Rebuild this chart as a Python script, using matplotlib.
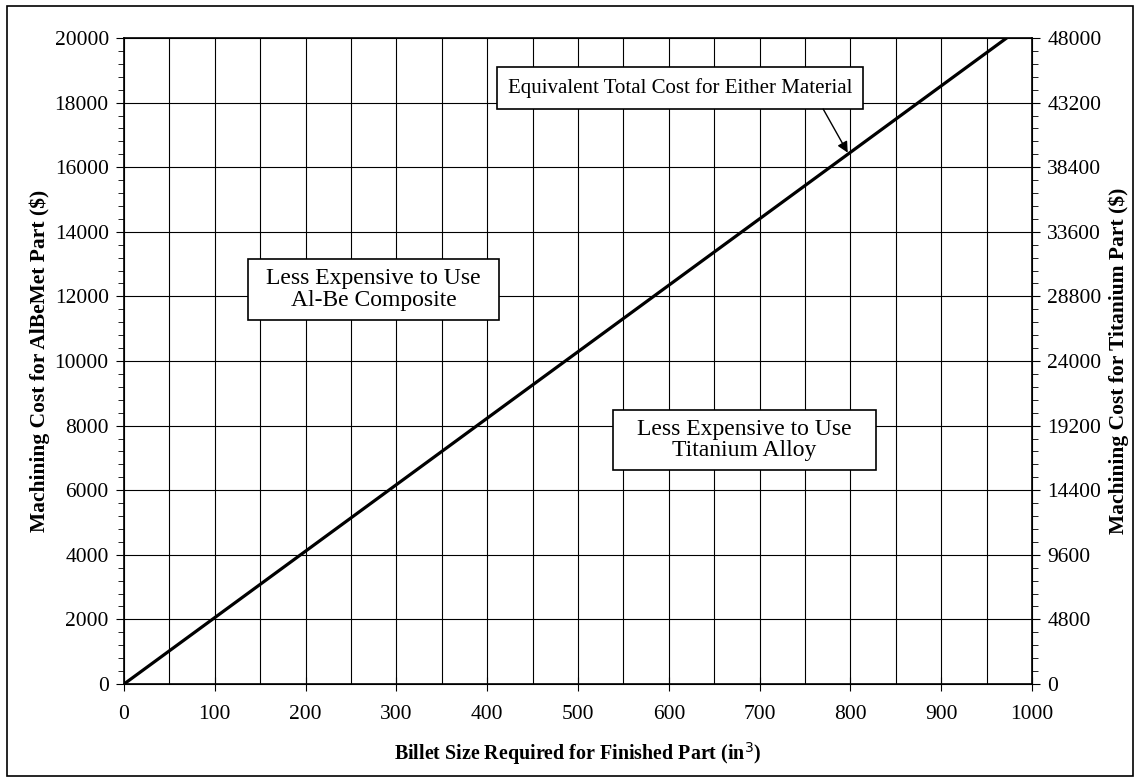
import matplotlib
matplotlib.use("Agg")
import matplotlib.pyplot as plt
from matplotlib.ticker import MultipleLocator
from matplotlib.patches import Rectangle

# break-even line: billet size (in^3) vs AlBeMet machining cost ($)
billet_size = [0, 972]
albemet_cost = [0, 20000]

x_ticks = list(range(0, 1001, 100))
left_ticks = list(range(0, 20001, 2000))
right_ticks = list(range(0, 48001, 4800))

plt.rcParams['font.family'] = ['Liberation Serif', 'DejaVu Serif']

fig = plt.figure(figsize=(11.4, 7.82), dpi=100)
fig.patches.append(Rectangle((0.006, 0.008), 0.988, 0.984, transform=fig.transFigure,
                             fill=False, edgecolor='black', linewidth=1.2))

ax = fig.add_axes([0.1088, 0.1253, 0.7965, 0.8261])
ax.set_xlim(0, 1000)
ax.set_ylim(0, 20000)

# grid every 50 in x, every 2000 in y
for gx in range(50, 1000, 50):
    ax.axvline(gx, color='black', linewidth=0.8, zorder=1)
for gy in left_ticks[1:-1]:
    ax.axhline(gy, color='black', linewidth=0.8, zorder=1)

ax.plot(billet_size, albemet_cost, color='black', linewidth=2.3, zorder=3)

ax.set_xticks(x_ticks)
ax.set_yticks(left_ticks)
ax.yaxis.set_minor_locator(MultipleLocator(400))
ax.tick_params(axis='x', direction='inout', length=10, labelsize=15.5, pad=10)
ax.tick_params(axis='y', which='major', direction='out', length=6, labelsize=15.5, pad=5)
ax.tick_params(axis='y', which='minor', direction='out', length=4)
for s in ax.spines.values():
    s.set_linewidth(1.2)

ax2 = ax.twinx()
ax2.set_ylim(0, 48000)
ax2.set_yticks(right_ticks)
ax2.yaxis.set_minor_locator(MultipleLocator(960))
ax2.tick_params(axis='y', which='major', direction='out', length=6, labelsize=15.5, pad=5)
ax2.tick_params(axis='y', which='minor', direction='out', length=4)

ax.set_xlabel('Billet Size Required for Finished Part (in$^{3}$)', fontsize=14.4,
              fontweight='bold', labelpad=12)
ax.set_ylabel('Machining Cost for AlBeMet Part ($)', fontsize=15.5,
              fontweight='bold', labelpad=3)
ax2.set_ylabel('Machining Cost for Titanium Part ($)', fontsize=15.5,
               fontweight='bold', labelpad=5)


def boxed(x, y, s, size, hpad, vpad, ls=1.05):
    # text with a plain rectangle drawn round it, padding given in pixels
    t = ax.text(x, y, s, ha='center', va='center', fontsize=size, zorder=5,
                linespacing=ls)
    fig.canvas.draw()
    bb = t.get_window_extent()
    inv = ax.transData.inverted()
    (x0, y0), (x1, y1) = inv.transform([(bb.x0 - hpad, bb.y0 - vpad),
                                        (bb.x1 + hpad, bb.y1 + vpad)])
    ax.add_patch(Rectangle((x0, y0), x1 - x0, y1 - y0, facecolor='white',
                           edgecolor='black', linewidth=1.2, zorder=4))


boxed(275, 12214, 'Less Expensive to Use\nAl-Be Composite', 17, 18, 9)
boxed(683, 7554, 'Less Expensive to Use\nTitanium Alloy', 17, 24, 9)
boxed(612, 18452, 'Equivalent Total Cost for Either Material', 15, 11, 11)
ax.annotate('', xy=(797, 16450), xytext=(770, 17800),
            arrowprops=dict(arrowstyle='-|>', color='black', linewidth=1.0,
                            mutation_scale=16, shrinkA=0, shrinkB=0), zorder=6)

fig.savefig('out.png', dpi=100)
